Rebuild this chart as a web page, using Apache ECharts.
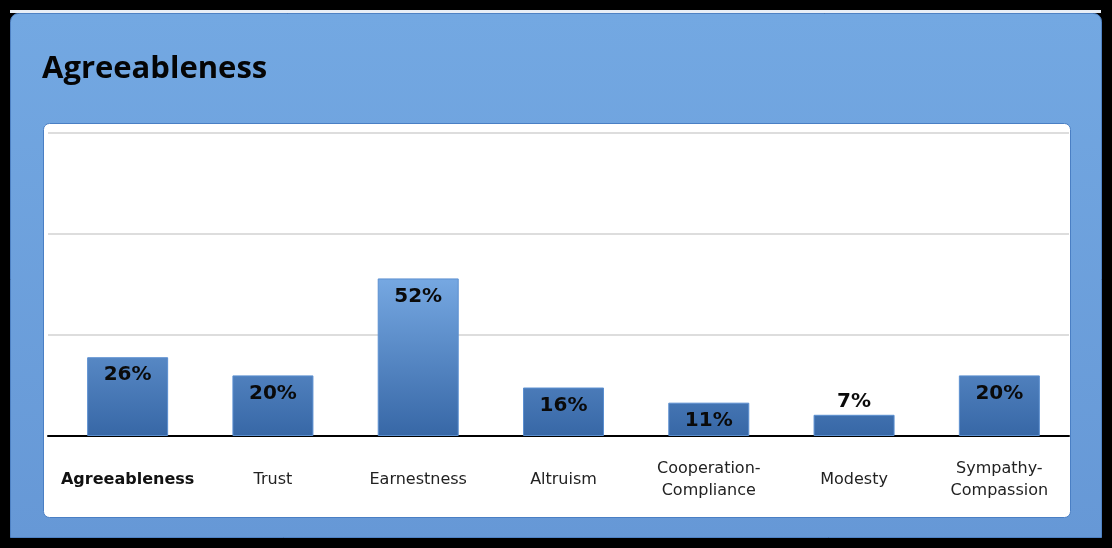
<!DOCTYPE html>
<html>
<head>
<meta charset="utf-8">
<script src="https://cdn.jsdelivr.net/npm/echarts@6/dist/echarts.min.js"></script>
<style>
html,body{margin:0;padding:0;background:#000;}
#c{width:1112px;height:548px;}
</style>
</head>
<body>
<div id="c"></div>
<script>
var categories = ['Agreeableness','Trust','Earnestness','Altruism','Cooperation-\nCompliance','Modesty','Sympathy-\nCompassion'];
var values = [26, 20, 52, 16, 11, 7, 20];
var titleText = 'Agreeableness';

var chart = echarts.init(document.getElementById('c'), null, {renderer:'canvas'});

var barGradient = new echarts.graphic.LinearGradient(0, 278, 0, 436, [
  {offset:0, color:'#76a8e2'},
  {offset:1, color:'#3767a6'}
], true);

var seriesData = values.map(function(v, i){
  var small = v < 10;
  return {
    value: v,
    label: small ? {position:'top', distance:3} : {position:'insideTop', distance:8}
  };
});

var option = {
  backgroundColor: '#000',
  animation: false,
  title: {
    text: titleText,
    left: 37,
    top: 49,
    textStyle: {fontFamily:'Open Sans', fontWeight:'bold', fontSize:31, color:'#050505'}
  },
  graphic: [
    {type:'rect', shape:{x:10, y:10, width:1091, height:3}, style:{fill:'#e8eef6'}, z:-10},
    {type:'rect', shape:{x:10.5, y:13.5, width:1091, height:524, r:[8,8,0,0]},
      style:{fill:new echarts.graphic.LinearGradient(0,0,0,1,[{offset:0,color:'#73a8e2'},{offset:1,color:'#6698d6'}]), stroke:'#4f82c4', lineWidth:1}, z:-9},
    {type:'rect', shape:{x:43.5, y:123.5, width:1027, height:394, r:6},
      style:{fill:'#ffffff', stroke:'#4a7fc4', lineWidth:1}, z:-8}
  ],
  grid: [
    {left:48, top:133, width:1021, height:303},
    {left:55, top:133, width:1017, height:303}
  ],
  xAxis: [
    {type:'category', gridIndex:0, data:categories,
      axisLine:{show:true, lineStyle:{color:'#000', width:2}},
      axisTick:{show:false}, axisLabel:{show:false}, splitLine:{show:false}},
    {type:'category', gridIndex:1, data:categories,
      axisLine:{show:false}, axisTick:{show:false}, splitLine:{show:false},
      axisLabel:{
        show:true, interval:0, margin:44, verticalAlign:'middle',
        fontFamily:'DejaVu Sans', fontSize:16, color:'#222', lineHeight:22,
        formatter:function(v, i){ return i === 0 ? '{b|' + v + '}' : v; },
        rich:{b:{fontFamily:'DejaVu Sans', fontWeight:'bold', fontSize:16, color:'#111'}}
      }}
  ],
  yAxis: [
    {type:'value', gridIndex:0, min:0, max:100, interval:100/3,
      axisLine:{show:false}, axisTick:{show:false}, axisLabel:{show:false},
      splitLine:{show:true, lineStyle:{color:'#dddddd', width:2}}},
    {type:'value', gridIndex:1, min:0, max:100, interval:100/3,
      axisLine:{show:false}, axisTick:{show:false}, axisLabel:{show:false},
      splitLine:{show:false}}
  ],
  series: [{
    type:'bar', xAxisIndex:1, yAxisIndex:1,
    data: seriesData,
    barWidth: 81,
    itemStyle:{color:barGradient, borderColor:'#5b8fd0', borderWidth:1},
    label:{show:true, formatter:'{c}%', fontFamily:'DejaVu Sans', fontWeight:'bold', fontSize:20, color:'#0a0a0a'},
    z:3
  }]
};
chart.setOption(option);
</script>
</body>
</html>
